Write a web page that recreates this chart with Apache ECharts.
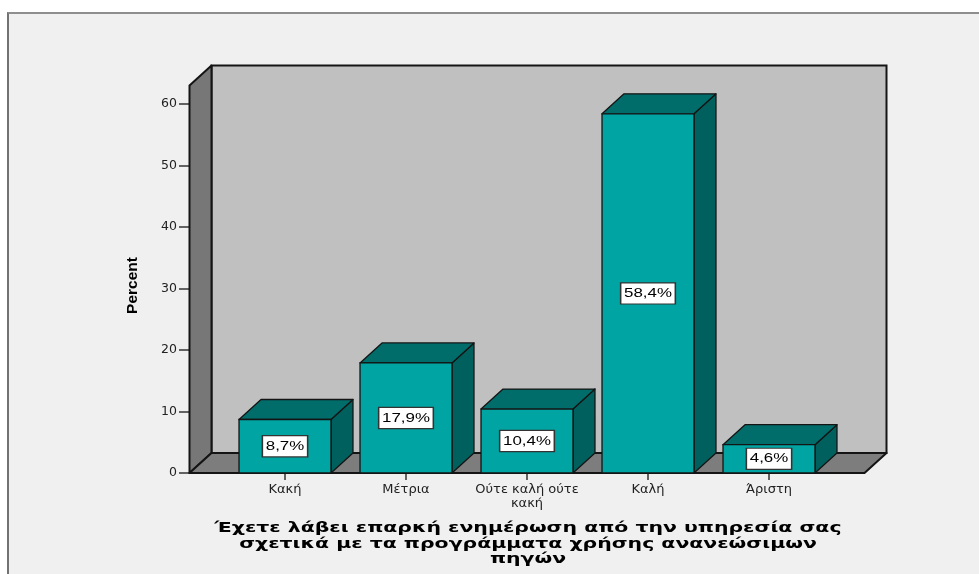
<!DOCTYPE html>
<html>
<head>
<meta charset="utf-8">
<title>Percent</title>
<script src="https://cdn.jsdelivr.net/npm/echarts/dist/echarts.min.js"></script>
<style>
  html, body { margin: 0; padding: 0; background: #ffffff; }
  #frame {
    position: absolute; left: 7px; top: 12px; width: 980px; height: 580px;
    background: #f0f0f0; border-left: 2px solid #727272; border-top: 2px solid #8e8e8e;
  }
  #chart { position: absolute; left: 0; top: 0; width: 979px; height: 574px; }
</style>
</head>
<body>
<div id="frame"></div>
<div id="chart"></div>
<script>
// Answer categories and their share of respondents (%)
const categories = ['Κακή', 'Μέτρια', 'Ούτε καλή ούτε\nκακή', 'Καλή', 'Άριστη'];
const percents = [8.7, 17.9, 10.4, 58.4, 4.6];

// Value axis ticks
const yTickMin = 0;
const yTickMax = 60;
const yTickStep = 10;

const axisTitle = 'Percent';
const titleLines = [
  'Έχετε λάβει επαρκή ενημέρωση από την υπηρεσία σας',
  'σχετικά με τα προγράμματα χρήσης ανανεώσιμων',
  'πηγών'
];

// 3D box styling
const DEPTH_X = 22, DEPTH_Y = 20;   // oblique depth offset
const FLOOR_PAD = 35;               // floor overhang beyond the category band
const BOX_TOP = 63;                 // height of the walls in axis units
const BAR_RATIO = 0.76;
const WALL_BACK = '#c0c0c0', WALL_SIDE = '#777777', FLOOR = '#7d7d7d';
const BAR_FRONT = '#00a5a3', BAR_TOP = '#006d6b', BAR_SIDE = '#00605d';
const EDGE = '#141414';

function fmt(v) { return v.toFixed(1).replace('.', ',') + '%'; }

// horizontal stretch for the bottom caption
function textWidth(str, font) {
  const c = document.createElement('canvas').getContext('2d');
  c.font = font;
  return c.measureText(str).width;
}
const TITLE_FONT = 'bold 13.5px "DejaVu Sans"';
const titleScale = 627 / textWidth(titleLines[0], TITLE_FONT);

const chart = echarts.init(document.getElementById('chart'), null, { renderer: 'canvas' });

const option = {
  animation: false,
  backgroundColor: 'transparent',
  grid: { left: 224.5, right: 149.5, top: 104, bottom: 101, containLabel: false },
  xAxis: {
    type: 'category',
    data: categories,
    axisLine: { show: false },
    axisTick: { show: true, alignWithLabel: true, length: 7, lineStyle: { color: '#333', width: 1.5 } },
    axisLabel: {
      margin: 10, color: '#222', fontFamily: 'DejaVu Sans', fontSize: 13, lineHeight: 13.5, interval: 0
    },
    splitLine: { show: false }
  },
  yAxis: {
    type: 'value',
    min: yTickMin, max: yTickMax, interval: yTickStep,
    offset: 34.5,
    name: axisTitle,
    nameLocation: 'middle',
    nameGap: 49,
    nameTextStyle: { fontFamily: 'Liberation Sans', fontWeight: 'bold', fontSize: 15.5, color: '#000', padding: [0, 0, 0, 6] },
    axisLine: { show: false },
    axisTick: { show: true, length: 11, lineStyle: { color: '#333', width: 1.5 } },
    axisLabel: { margin: 13, color: '#222', fontFamily: 'DejaVu Sans', fontSize: 12.5 },
    splitLine: { show: false }
  },
  graphic: [{
    type: 'text',
    x: 528, y: 521,
    scaleX: titleScale,
    style: {
      text: titleLines.join('\n'),
      font: TITLE_FONT,
      lineHeight: 15.5,
      align: 'center',
      verticalAlign: 'top',
      fill: '#000'
    }
  }],
  series: [
    {
      // chart box: back wall, left wall and floor
      type: 'custom',
      data: [[0, 0]],
      silent: true,
      z: 1,
      renderItem(params, api) {
        const cs = params.coordSys;
        const base = api.coord([0, yTickMin])[1];
        const top = api.coord([0, BOX_TOP])[1];
        const L = cs.x - FLOOR_PAD, R = cs.x + cs.width + FLOOR_PAD;
        return {
          type: 'group',
          children: [
            { type: 'rect', shape: { x: L + DEPTH_X, y: top - DEPTH_Y, width: R - L, height: base - top },
              style: { fill: WALL_BACK, stroke: EDGE, lineWidth: 2 } },
            { type: 'polygon', shape: { points: [[L, base], [L, top], [L + DEPTH_X, top - DEPTH_Y], [L + DEPTH_X, base - DEPTH_Y]] },
              style: { fill: WALL_SIDE, stroke: EDGE, lineWidth: 2, lineJoin: 'round' } },
            { type: 'polygon', shape: { points: [[L, base], [R, base], [R + DEPTH_X, base - DEPTH_Y], [L + DEPTH_X, base - DEPTH_Y]] },
              style: { fill: FLOOR, stroke: EDGE, lineWidth: 2, lineJoin: 'round' } }
          ]
        };
      }
    },
    {
      // the 3D bars with their value labels
      type: 'custom',
      data: percents.map((v, i) => [i, v]),
      z: 2,
      renderItem(params, api) {
        const idx = api.value(0), v = api.value(1);
        const b = api.coord([idx, 0]);
        const t = api.coord([idx, v]);
        const w = api.size([1, 0])[0] * BAR_RATIO;
        const x0 = b[0] - w / 2, x1 = b[0] + w / 2, yb = b[1], yt = t[1];
        return {
          type: 'group',
          children: [
            { type: 'polygon', shape: { points: [[x1, yb], [x1, yt], [x1 + DEPTH_X, yt - DEPTH_Y], [x1 + DEPTH_X, yb - DEPTH_Y]] },
              style: { fill: BAR_SIDE, stroke: EDGE, lineWidth: 1.3, lineJoin: 'round' } },
            { type: 'polygon', shape: { points: [[x0, yt], [x1, yt], [x1 + DEPTH_X, yt - DEPTH_Y], [x0 + DEPTH_X, yt - DEPTH_Y]] },
              style: { fill: BAR_TOP, stroke: EDGE, lineWidth: 1.3, lineJoin: 'round' } },
            { type: 'rect', shape: { x: x0, y: yt, width: w, height: yb - yt },
              style: { fill: BAR_FRONT, stroke: EDGE, lineWidth: 1.3 } },
            { type: 'text', x: b[0], y: (yt + yb) / 2, scaleX: 1.3,
              style: {
                text: fmt(v), font: '13px "Liberation Sans"', fill: '#000',
                align: 'center', verticalAlign: 'middle', lineHeight: 14,
                backgroundColor: '#ffffff', borderColor: '#333333', borderWidth: 1.2, padding: [3, 2]
              } }
          ]
        };
      }
    }
  ]
};

chart.setOption(option);
</script>
</body>
</html>
